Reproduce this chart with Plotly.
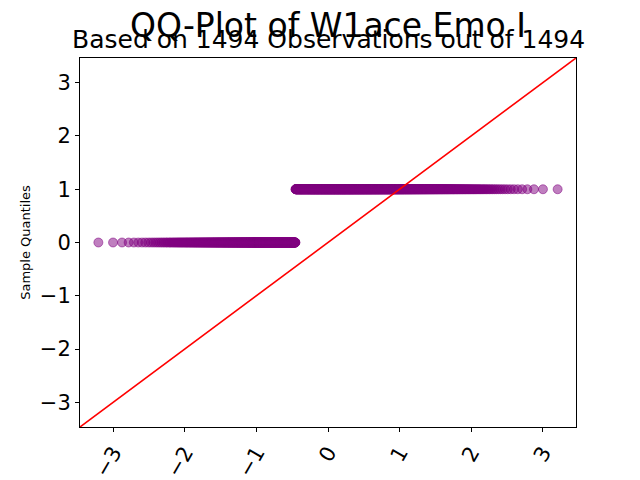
import numpy as np
import plotly.graph_objects as go
from statistics import NormalDist

# observed responses (binary item) and how often each occurs
sample_levels = [0, 1]
sample_counts = [485, 1009]

title_text = "QQ-Plot of W1ace Emo I"
x_ticks = [-3, -2, -1, 0, 1, 2, 3]
y_ticks = [-3, -2, -1, 0, 1, 2, 3]


def qq_points(levels, counts):
    '''Sorted sample values against normal plotting positions i/(n+1)'''
    sample = np.sort(np.repeat(levels, counts))
    n = len(sample)
    nd = NormalDist()
    theo = np.array([nd.inv_cdf(i / (n + 1)) for i in range(1, n + 1)])
    return theo, sample


theo, sample = qq_points(sample_levels, sample_counts)
n_obs = len(sample)

# axis limits with a small margin around the data, same on both axes
pad = 0.04 * (theo.max() - theo.min())
lim = max(abs(theo.min()), abs(theo.max())) + pad

purple = 'rgba(128,0,128,0.5)'

fig = go.Figure()

fig.add_trace(go.Scatter(x=theo, y=sample, mode='markers',
                         marker=dict(color=purple, size=9,
                                     line=dict(width=1, color=purple)),
                         showlegend=False))

# 45 degree reference line
fig.add_shape(type='line', xref='x', yref='y', x0=-lim, y0=-lim, x1=lim, y1=lim,
              line=dict(color='red', width=1.6))

# page body adds an 8px margin, so the figure is a bit smaller than the window
fig.update_layout(
    width=632, height=472,
    margin=dict(l=72, r=64, t=50, b=53, autoexpand=False),
    plot_bgcolor='white', paper_bgcolor='white',
    font=dict(family='DejaVu Sans', color='black'),
    title=dict(text=title_text, x=0.5, xref='paper', y=1 - 17 / 472,
               yanchor='middle', font=dict(size=33)),
    annotations=[dict(text="Based on {n} Observations out of {n}".format(n=n_obs),
                      xref='paper', yref='paper', x=0.5, y=1 + 18 / 369,
                      xanchor='center', yanchor='middle', showarrow=False,
                      font=dict(size=25))],
)

fig.update_xaxes(range=[-lim, lim], tickvals=x_ticks, tickangle=-60,
                 tickfont=dict(size=21), showgrid=False, zeroline=False,
                 showline=True, mirror=True, linecolor='black', linewidth=1,
                 ticks='outside', ticklen=4, tickcolor='black', automargin=False)
fig.update_yaxes(range=[-lim, lim], tickvals=y_ticks,
                 tickfont=dict(size=21), showgrid=False, zeroline=False,
                 showline=True, mirror=True, linecolor='black', linewidth=1,
                 ticks='outside', ticklen=4, tickcolor='black', automargin=False,
                 title=dict(text='Sample Quantiles', font=dict(size=13), standoff=6))

fig.write_html("out.html")
